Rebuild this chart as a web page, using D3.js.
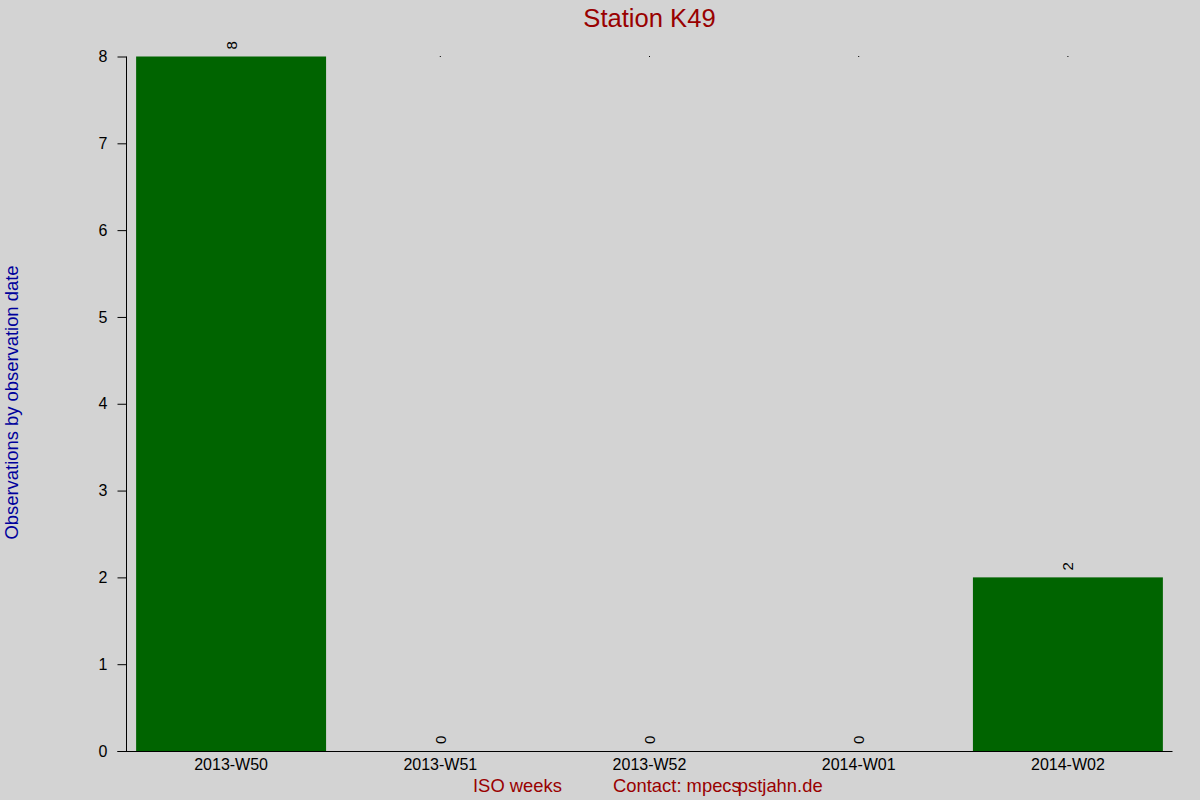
<!DOCTYPE html>
<html lang="en">
<head>
    <meta charset="UTF-8">
    <title>Station K49</title>
    <script src="https://cdn.jsdelivr.net/npm/d3@7"></script>
    <style>
      body { margin: 0; background: #d3d3d3; }
      text { font-family: "Liberation Sans", Arial, sans-serif; }
    </style>
</head>
<body>
    <script>
      const weeks = ["2013-W50", "2013-W51", "2013-W52", "2014-W01", "2014-W02"];
      const counts = [8, 0, 0, 0, 2];
      const yTicks = [0, 1, 2, 3, 4, 5, 6, 7, 8];

      const w = 1200;
      const h = 800;
      const plotLeft = 126.5, plotRight = 1172.5, plotTop = 56.5, plotBottom = 751;

      const xScale = d3.scaleBand()
                       .domain(weeks)
                       .range([plotLeft, plotRight])
                       .paddingInner(0.092)
                       .paddingOuter(0.046);

      const yScale = d3.scaleLinear()
                       .domain([0, 8])
                       .range([plotBottom, plotTop]);

      const svg = d3.select("body")
                    .append("svg")
                    .attr("width", w)
                    .attr("height", h);

      svg.append("rect")
         .attr("width", w)
         .attr("height", h)
         .attr("fill", "#d3d3d3");

      // bars
      svg.selectAll("rect.bar")
         .data(weeks)
         .enter()
         .append("rect")
         .attr("class", "bar")
         .attr("x", (d) => xScale(d))
         .attr("width", xScale.bandwidth())
         .attr("y", (d, i) => yScale(counts[i]))
         .attr("height", (d, i) => plotBottom - yScale(counts[i]))
         .attr("fill", "#006400");

      // tiny marks at the top for empty weeks
      svg.selectAll("rect.dot")
         .data(weeks.filter((d, i) => i > 0))
         .enter()
         .append("rect")
         .attr("class", "dot")
         .attr("x", (d) => xScale(d) + xScale.bandwidth() / 2 - 0.5)
         .attr("y", yScale(8) - 0.5)
         .attr("width", 1)
         .attr("height", 1)
         .attr("fill", "#000");

      // value labels, rotated
      svg.selectAll("text.val")
         .data(weeks)
         .enter()
         .append("text")
         .attr("class", "val")
         .attr("transform", (d, i) => `translate(${xScale(d) + xScale.bandwidth() / 2}, ${yScale(counts[i]) - 7}) rotate(-90)`)
         .attr("dominant-baseline", "central")
         .attr("font-size", "15px")
         .attr("fill", "#000")
         .text((d, i) => counts[i]);

      const xAxis = d3.axisBottom(xScale).tickSize(0).tickPadding(8);
      const yAxis = d3.axisLeft(yScale).tickValues(yTicks).tickSize(9).tickPadding(10).tickFormat(d3.format("d"));

      const gx = svg.append("g")
         .attr("transform", "translate(0," + plotBottom + ")")
         .call(xAxis);
      gx.select(".domain").attr("d", `M${plotLeft - 9},0.5H${plotRight}`);

      const gy = svg.append("g")
         .attr("transform", "translate(" + plotLeft + ", 0)")
         .call(yAxis);
      gy.select(".domain").attr("d", `M0,${plotTop}V${plotBottom}`);

      svg.selectAll(".tick text").attr("fill", "#000");
      gx.selectAll(".tick text").attr("font-size", "16px").attr("font-family", "Liberation Sans, Arial, sans-serif");
      gy.selectAll(".tick text").attr("font-size", "16px").attr("font-family", "Liberation Sans, Arial, sans-serif");
      svg.selectAll(".domain, .tick line").attr("stroke", "#000");

      // title
      svg.append("text")
         .attr("x", 649.5)
         .attr("y", 27)
         .attr("text-anchor", "middle")
         .attr("font-size", "25.6px")
         .attr("fill", "#990000")
         .text("Station K49");

      // y-axis label
      svg.append("g")
         .attr("transform", "translate(18, 402.5)")
         .append("text")
         .attr("text-anchor", "middle")
         .attr("transform", "rotate(-90)")
         .attr("font-size", "18.4px")
         .attr("fill", "#00009c")
         .text("Observations by observation date");

      // bottom labels
      svg.append("text")
         .attr("x", 473)
         .attr("y", 792)
         .attr("font-size", "18.4px")
         .attr("fill", "#990000")
         .text("ISO weeks");

      const contact = svg.append("text")
         .attr("x", 613)
         .attr("y", 792)
         .attr("font-size", "18.4px")
         .attr("fill", "#990000");
      contact.append("tspan").text("Contact: mpecs");
      contact.append("tspan").attr("dx", -3).text("pstjahn.de");
    </script>
</body>
</html>
